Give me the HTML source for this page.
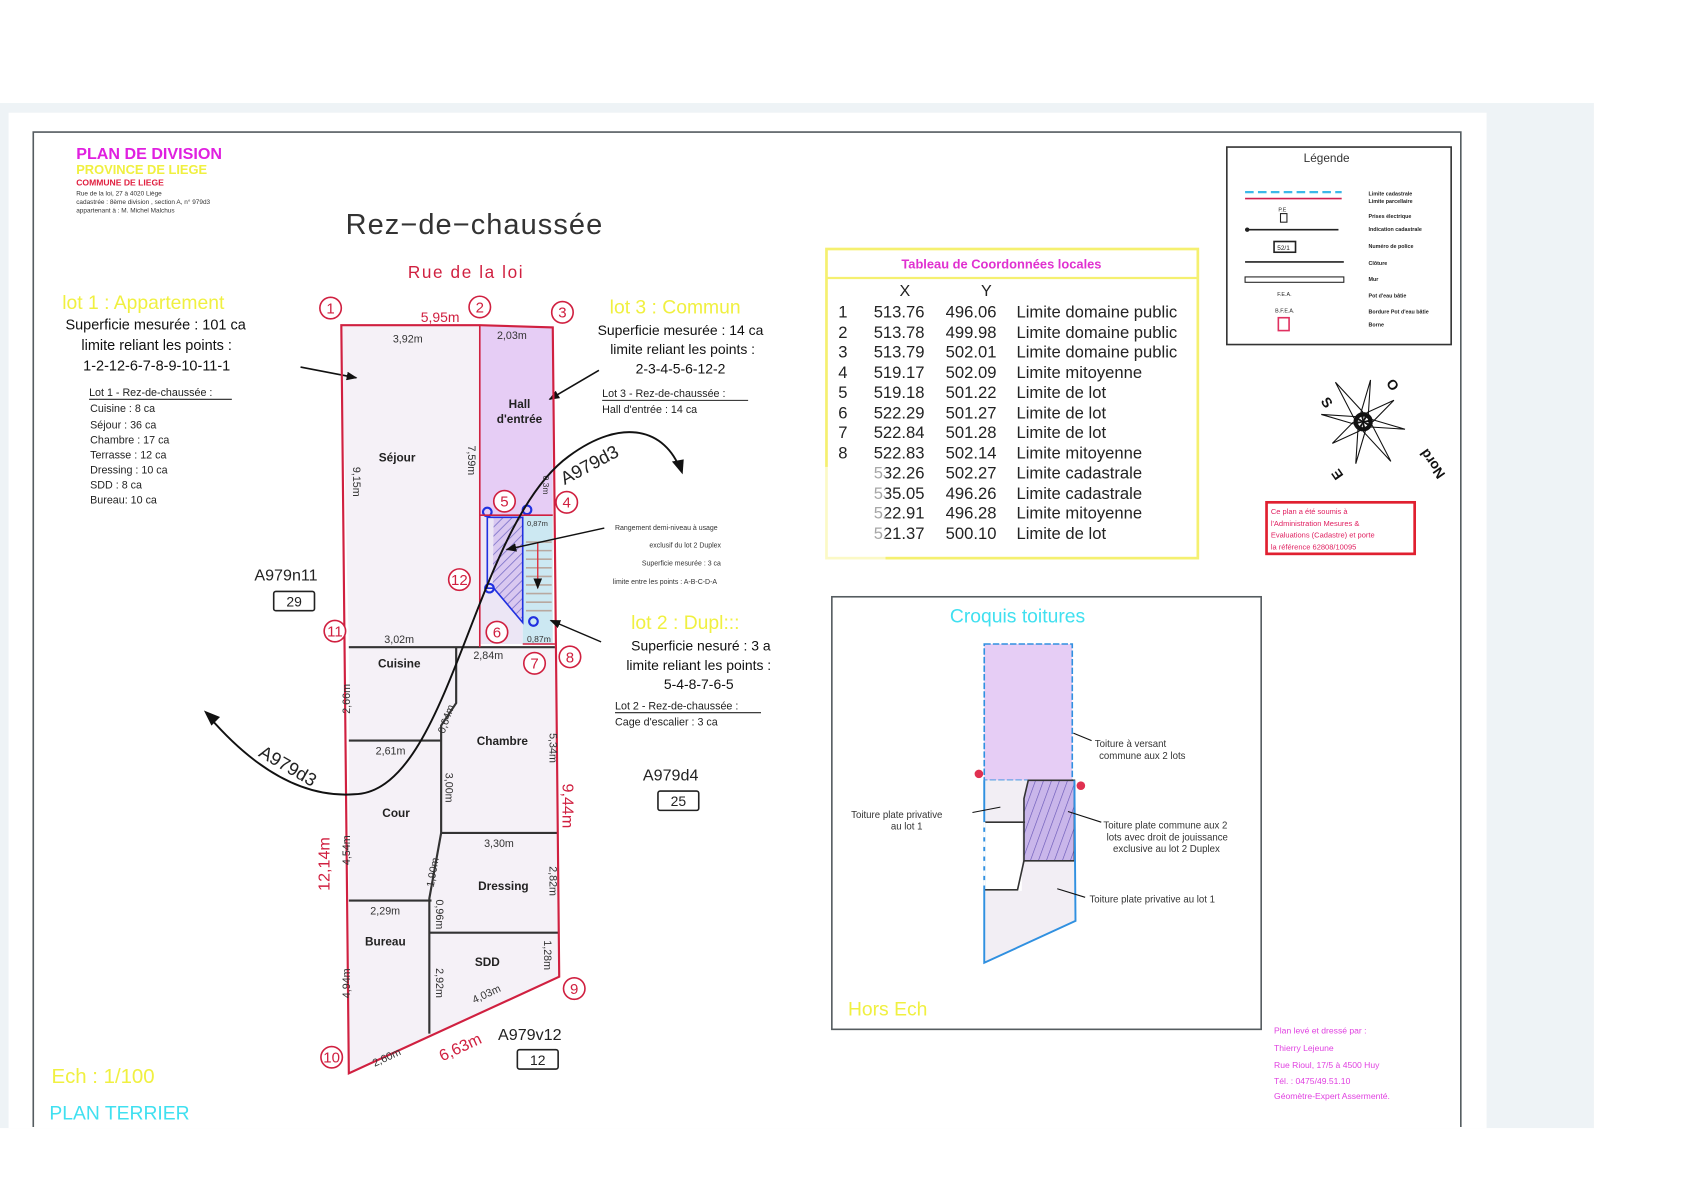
<!DOCTYPE html>
<html><head><meta charset="utf-8"><style>
html,body{margin:0;padding:0;background:#fff;width:1683px;height:1200px;overflow:hidden}
svg{display:block}
text{font-family:"Liberation Sans",sans-serif}
.n{font-family:"Liberation Sans Narrow","Liberation Sans",sans-serif}
</style></head><body>
<svg width="1683" height="1200" viewBox="0 0 1568 1118" xmlns="http://www.w3.org/2000/svg">
<defs>
<pattern id="h" width="6" height="6" patternUnits="userSpaceOnUse" patternTransform="rotate(45)"><rect width="6" height="6" fill="#d9c8f0"/><line x1="0" y1="0" x2="0" y2="6" stroke="#7a70c8" stroke-width="1.5"/></pattern>
<pattern id="h2" width="7" height="7" patternUnits="userSpaceOnUse" patternTransform="rotate(20)"><rect width="7" height="7" fill="#c9b6ea"/><line x1="0" y1="0" x2="0" y2="7" stroke="#6a58b8" stroke-width="1.2"/></pattern>
<marker id="ar" markerWidth="10" markerHeight="8" refX="9" refY="4" orient="auto" markerUnits="userSpaceOnUse"><path d="M0,0 L10,4 L0,8 z" fill="#111"/></marker>
</defs>
<!-- backgrounds -->
<rect x="0" y="96" width="1485" height="955" fill="#eef3f6"/>
<rect x="8" y="105" width="1377" height="946" fill="#fff"/>
<path d="M31,1050 V123 H1361 V1050" fill="none" stroke="#555c60" stroke-width="1.5"/>

<!-- header -->
<text x="71" y="148" font-size="15" font-weight="bold" fill="#e020e0">PLAN DE DIVISION</text>
<text x="71" y="162" font-size="12" font-weight="bold" fill="#f0f040">PROVINCE DE LIEGE</text>
<text x="71" y="173" font-size="8" font-weight="bold" fill="#e02040">COMMUNE DE LIEGE</text>
<text x="71" y="182" font-size="6" fill="#333">Rue de la loi, 27 à 4020 Liège</text>
<text x="71" y="190" font-size="6" fill="#333">cadastrée : 8ème division , section A, n° 979d3</text>
<text x="71" y="198" font-size="6" fill="#333">appartenant à : M. Michel Malchus</text>

<text x="322" y="218" font-size="27" fill="#333" letter-spacing="1">Rez−de−chaussée</text>
<text x="380" y="259" font-size="16" fill="#d02040" letter-spacing="1.5">Rue de la loi</text>

<!-- lot 1 text -->
<text x="58" y="288" font-size="18" fill="#f0f040">lot 1 : Appartement</text>
<text x="145" y="307" font-size="13.5" fill="#111" text-anchor="middle" class="n">Superficie mesurée : 101 ca</text>
<text x="146" y="326" font-size="13.5" fill="#111" text-anchor="middle" class="n">limite reliant les points :</text>
<text x="146" y="345" font-size="13.5" fill="#111" text-anchor="middle" class="n">1-2-12-6-7-8-9-10-11-1</text>
<text x="83" y="369" font-size="10" fill="#222">Lot 1 - Rez-de-chaussée :</text>
<line x1="83" y1="372" x2="216" y2="372" stroke="#222"/>
<g font-size="10" fill="#222"><text x="84" y="384">Cuisine : 8 ca</text><text x="84" y="399">Séjour : 36 ca</text><text x="84" y="413">Chambre : 17 ca</text><text x="84" y="427">Terrasse : 12 ca</text><text x="84" y="441">Dressing : 10 ca</text><text x="84" y="455">SDD : 8 ca</text><text x="84" y="469">Bureau: 10 ca</text></g>

<!-- lot 3 text -->
<text x="568" y="292" font-size="18" fill="#f0f040">lot 3 : Commun</text>
<text x="634" y="312" font-size="13" fill="#111" text-anchor="middle" class="n">Superficie mesurée : 14 ca</text>
<text x="636" y="330" font-size="13" fill="#111" text-anchor="middle" class="n">limite reliant les points :</text>
<text x="634" y="348" font-size="13" fill="#111" text-anchor="middle" class="n">2-3-4-5-6-12-2</text>
<text x="561" y="370" font-size="10" fill="#222">Lot 3 - Rez-de-chaussée :</text>
<line x1="561" y1="373" x2="697" y2="373" stroke="#222"/>
<text x="561" y="385" font-size="10" fill="#222">Hall d'entrée : 14 ca</text>

<!-- parcel fills -->
<polygon points="318,303 447,303 447,603 325,603" fill="#f5f1f7"/>
<rect x="447" y="304" width="68" height="176" fill="#e6cdf5"/>
<polygon points="325,603 517,603 521,910 325,1000" fill="#f5f1f7"/>
<rect x="447" y="480" width="40" height="120" fill="#ece6f5"/>
<rect x="487" y="480" width="28" height="120" fill="#cce8f2"/>
<g stroke="#b8a8a0" stroke-width="1.5"><line x1="490" y1="505" x2="514" y2="505"/><line x1="490" y1="513" x2="514" y2="513"/><line x1="490" y1="521" x2="514" y2="521"/><line x1="490" y1="529" x2="514" y2="529"/><line x1="490" y1="537" x2="514" y2="537"/><line x1="490" y1="545" x2="514" y2="545"/><line x1="490" y1="553" x2="514" y2="553"/><line x1="490" y1="561" x2="514" y2="561"/><line x1="490" y1="569" x2="514" y2="569"/></g>
<line x1="501" y1="505" x2="501" y2="548" stroke="#e03040" stroke-width="1.3" marker-end="url(#ar)"/>
<polygon points="460,482 487,482 487,578 459,548" fill="url(#h)"/>
<polyline points="454,482 487,482 487,580 460,548 454,548 454,482" fill="none" stroke="#2030e0" stroke-width="1.5"/>
<g fill="none" stroke="#2030e0" stroke-width="2"><circle cx="454" cy="477" r="4"/><circle cx="491" cy="475" r="4"/><circle cx="456" cy="548" r="4"/><circle cx="497" cy="579" r="4"/></g>

<!-- arrows to parcel -->
<line x1="280" y1="342" x2="332" y2="352" stroke="#111" stroke-width="1.5" marker-end="url(#ar)"/>
<line x1="558" y1="345" x2="512" y2="372" stroke="#111" stroke-width="1.5" marker-end="url(#ar)"/>

<!-- room lines -->
<g stroke="#333" stroke-width="2" fill="none">
<line x1="325" y1="603" x2="517" y2="603"/>
<polyline points="425,603 425,655 411,676 411,776 400,837 400,963"/>
<line x1="325" y1="690" x2="411" y2="690"/>
<line x1="411" y1="776" x2="519" y2="776"/>
<line x1="325" y1="839" x2="402" y2="839"/>
<line x1="400" y1="869" x2="520" y2="869"/>
</g>
<line x1="447" y1="303" x2="447" y2="603" stroke="#d02040" stroke-width="1.5"/>
<line x1="447" y1="480" x2="515" y2="480" stroke="#d02040" stroke-width="1.5"/>
<line x1="487" y1="600" x2="517" y2="600" stroke="#d02040" stroke-width="1.5"/>
<!-- parcel outline -->
<polygon points="318,303 447,303 515,305 521,910 325,1000" fill="none" stroke="#d02040" stroke-width="2"/>

<!-- point circles -->
<g fill="#fff" stroke="#d02040" stroke-width="1.5">
<circle cx="308" cy="287" r="10"/><circle cx="447" cy="286" r="10"/><circle cx="524" cy="291" r="10"/><circle cx="528" cy="468" r="10"/><circle cx="470" cy="467" r="10"/><circle cx="428" cy="540" r="10"/><circle cx="463" cy="589" r="10"/><circle cx="498" cy="618" r="10"/><circle cx="531" cy="612" r="10"/><circle cx="312" cy="588" r="10"/><circle cx="309" cy="985" r="10"/><circle cx="535" cy="921" r="10"/>
</g>
<g font-size="14" fill="#d02040" text-anchor="middle">
<text x="308" y="292">1</text><text x="447" y="291">2</text><text x="524" y="296">3</text><text x="528" y="473">4</text><text x="470" y="472">5</text><text x="428" y="545">12</text><text x="463" y="594">6</text><text x="498" y="623">7</text><text x="531" y="617">8</text><text x="312" y="593">11</text><text x="309" y="990">10</text><text x="535" y="926">9</text>
</g>

<!-- dimensions -->
<text x="392" y="300" font-size="13" fill="#d02040" class="n">5,95m</text>
<g font-size="10" fill="#333" class="n">
<text x="366" y="319">3,92m</text><text x="463" y="316">2,03m</text><text x="358" y="599">3,02m</text><text x="441" y="614">2,84m</text><text x="350" y="703">2,61m</text><text x="451" y="789">3,30m</text><text x="345" y="852">2,29m</text>
<text x="491" y="490" font-size="7">0,87m</text><text x="491" y="598" font-size="8">0,87m</text>
</g>
<g font-size="10" fill="#333" class="n">
<text transform="translate(329,435) rotate(90)">9,15m</text>
<text transform="translate(436,415) rotate(90)">7,59m</text>
<text transform="translate(326,665) rotate(-90)">2,66m</text>
<text transform="translate(326,806) rotate(-90)">4,54m</text>
<text transform="translate(326,930) rotate(-90)">4,94m</text>
<text transform="translate(415,720) rotate(90)">3,00m</text>
<text transform="translate(404,827) rotate(-80)">1,90m</text>
<text transform="translate(406,838) rotate(90)">0,96m</text>
<text transform="translate(406,902) rotate(90)">2,92m</text>
<text transform="translate(512,683) rotate(90)">5,34m</text>
<text transform="translate(512,807) rotate(90)">2,82m</text>
<text transform="translate(507,876) rotate(90)">1,28m</text>
<text transform="translate(414,684) rotate(-70)">0,64m</text>
<text transform="translate(442,935) rotate(-25)">4,03m</text>
<text transform="translate(349,994) rotate(-25)">2,60m</text>
<text transform="translate(506,443) rotate(90)" font-size="8">0,3m</text>
</g>
<text transform="translate(307,830) rotate(-90)" font-size="15" fill="#d02040" class="n">12,14m</text>
<text transform="translate(524,730) rotate(90)" font-size="15" fill="#d02040" class="n">9,44m</text>
<text transform="translate(412,989) rotate(-25)" font-size="15" fill="#d02040" class="n">6,63m</text>

<!-- room names -->
<g font-size="11" fill="#222" font-weight="bold" text-anchor="middle">
<text x="484" y="380">Hall</text><text x="484" y="394">d'entrée</text>
<text x="370" y="430">Séjour</text><text x="372" y="622">Cuisine</text><text x="468" y="694">Chambre</text><text x="369" y="761">Cour</text><text x="469" y="829">Dressing</text><text x="359" y="881">Bureau</text><text x="454" y="900">SDD</text>
</g>

<!-- A979d3 curve -->
<path d="M195,668 Q262,745 330,740 C420,738 440,490 530,425 C580,388 620,400 634,438" fill="none" stroke="#111" stroke-width="1.8"/>
<path d="M190,662 L205,668 L197,676 z" fill="#111"/>
<path d="M636,442 L626,430 L637,428 z" fill="#111"/>
<text transform="translate(526,452) rotate(-28)" font-size="17" fill="#222">A979d3</text>
<text transform="translate(240,704) rotate(30)" font-size="17" fill="#222">A979d3</text>

<!-- parcel labels -->
<text x="237" y="541" font-size="15" fill="#222">A979n11</text>
<rect x="255" y="551" width="38" height="18" rx="2" fill="none" stroke="#222" stroke-width="1.5"/><text x="274" y="565" font-size="13" text-anchor="middle" fill="#222">29</text>
<text x="599" y="727" font-size="15" fill="#222">A979d4</text>
<rect x="613" y="737" width="38" height="18" rx="2" fill="none" stroke="#222" stroke-width="1.5"/><text x="632" y="751" font-size="13" text-anchor="middle" fill="#222">25</text>
<text x="464" y="969" font-size="15" fill="#222">A979v12</text>
<rect x="482" y="978" width="38" height="18" rx="2" fill="none" stroke="#222" stroke-width="1.5"/><text x="501" y="992" font-size="13" text-anchor="middle" fill="#222">12</text>

<!-- rangement note -->
<g font-size="6.5" fill="#333" class="n"><text x="573" y="494">Rangement demi-niveau à usage</text><text x="605" y="510">exclusif du lot 2 Duplex</text><text x="598" y="527">Superficie mesurée : 3 ca</text><text x="571" y="544">limite entre les points : A-B-C-D-A</text></g>
<line x1="563" y1="492" x2="472" y2="512" stroke="#111" stroke-width="1.3" marker-end="url(#ar)"/>

<!-- lot 2 text -->
<text x="588" y="586" font-size="18" fill="#f0f040">lot 2 : Dupl:::</text>
<text x="653" y="606" font-size="13" fill="#111" text-anchor="middle" class="n">Superficie nesuré : 3 a</text>
<text x="651" y="624" font-size="13" fill="#111" text-anchor="middle" class="n">limite reliant les points :</text>
<text x="651" y="642" font-size="13" fill="#111" text-anchor="middle" class="n">5-4-8-7-6-5</text>
<text x="573" y="661" font-size="10" fill="#222">Lot 2 - Rez-de-chaussée :</text>
<line x1="573" y1="664" x2="709" y2="664" stroke="#222"/>
<text x="573" y="676" font-size="10" fill="#222">Cage d'escalier : 3 ca</text>
<line x1="560" y1="598" x2="513" y2="578" stroke="#111" stroke-width="1.3" marker-end="url(#ar)"/>

<text x="48" y="1009" font-size="19" fill="#f0f040">Ech : 1/100</text>
<text x="46" y="1043" font-size="18" fill="#40e0f0">PLAN TERRIER</text>

<!-- table -->
<rect x="770" y="232" width="346" height="288" fill="none" stroke="#f5f070" stroke-width="2.5"/>
<line x1="770" y1="259" x2="1116" y2="259" stroke="#f5f070" stroke-width="2"/>
<text x="933" y="250" font-size="12" font-weight="bold" fill="#e030d0" text-anchor="middle">Tableau de Coordonnées locales</text>
<text x="838" y="276" font-size="15" fill="#222">X</text><text x="914" y="276" font-size="15" fill="#222">Y</text>
<g font-size="15.5" fill="#222">
<text x="781" y="296">1</text><text x="814" y="296">513.76</text><text x="881" y="296">496.06</text><text x="947" y="296">Limite domaine public</text>
<text x="781" y="315">2</text><text x="814" y="315">513.78</text><text x="881" y="315">499.98</text><text x="947" y="315">Limite domaine public</text>
<text x="781" y="333">3</text><text x="814" y="333">513.79</text><text x="881" y="333">502.01</text><text x="947" y="333">Limite domaine public</text>
<text x="781" y="352">4</text><text x="814" y="352">519.17</text><text x="881" y="352">502.09</text><text x="947" y="352">Limite mitoyenne</text>
<text x="781" y="371">5</text><text x="814" y="371">519.18</text><text x="881" y="371">501.22</text><text x="947" y="371">Limite de lot</text>
<text x="781" y="390">6</text><text x="814" y="390">522.29</text><text x="881" y="390">501.27</text><text x="947" y="390">Limite de lot</text>
<text x="781" y="408">7</text><text x="814" y="408">522.84</text><text x="881" y="408">501.28</text><text x="947" y="408">Limite de lot</text>
<text x="781" y="427">8</text><text x="814" y="427">522.83</text><text x="881" y="427">502.14</text><text x="947" y="427">Limite mitoyenne</text>
<text x="814" y="446">532.26</text><text x="881" y="446">502.27</text><text x="947" y="446">Limite cadastrale</text>
<text x="814" y="465">535.05</text><text x="881" y="465">496.26</text><text x="947" y="465">Limite cadastrale</text>
<text x="814" y="483">522.91</text><text x="881" y="483">496.28</text><text x="947" y="483">Limite mitoyenne</text>
<text x="814" y="502">521.37</text><text x="881" y="502">500.10</text><text x="947" y="502">Limite de lot</text>
</g>
<rect x="765" y="435" width="60" height="90" fill="#fff" opacity="0.6"/>

<!-- legend -->
<rect x="1143" y="137" width="209" height="184" fill="#fff" stroke="#333" stroke-width="1.5"/>
<text x="1236" y="151" font-size="11" fill="#333" text-anchor="middle">Légende</text>
<line x1="1160" y1="179" x2="1250" y2="179" stroke="#3cb8e8" stroke-width="2" stroke-dasharray="8,4"/>
<line x1="1160" y1="185" x2="1250" y2="185" stroke="#d02050" stroke-width="1.5"/>
<rect x="1193" y="199" width="6" height="8" fill="none" stroke="#222"/><text x="1191" y="197" font-size="5" fill="#222">P.E</text>
<line x1="1160" y1="214" x2="1247" y2="214" stroke="#222" stroke-width="1.5"/><circle cx="1162" cy="214" r="2" fill="#222"/>
<rect x="1187" y="225" width="20" height="10" fill="none" stroke="#222" stroke-width="1.5"/><text x="1190" y="233" font-size="6" fill="#222">52/1</text>
<line x1="1160" y1="244" x2="1252" y2="244" stroke="#222" stroke-width="1.5"/>
<rect x="1160" y="258" width="92" height="5" fill="none" stroke="#222"/>
<text x="1190" y="276" font-size="5" fill="#222">F.E.A.</text><text x="1188" y="291" font-size="5" fill="#222">B.F.E.A.</text>
<rect x="1191" y="296" width="10" height="12" fill="none" stroke="#e03060" stroke-width="1.5"/>
<g font-size="5" font-weight="bold" fill="#222"><text x="1275" y="182">Limite cadastrale</text><text x="1275" y="189">Limite parcellaire</text><text x="1275" y="203">Prises électrique</text><text x="1275" y="215">Indication cadastrale</text><text x="1275" y="231">Numéro de police</text><text x="1275" y="247">Clôture</text><text x="1275" y="262">Mur</text><text x="1275" y="277">Pot d'eau bâtie</text><text x="1275" y="292">Bordure Pot d'eau bâtie</text><text x="1275" y="304">Borne</text></g>

<!-- compass -->
<g transform="translate(1270,393)" stroke="#111" fill="none" stroke-width="1">
<g transform="rotate(-35)">
<polygon points="0,-45 5,-8 0,0 -5,-8"/><polygon points="0,45 5,8 0,0 -5,8"/><polygon points="-35,0 -8,-5 0,0 -8,5"/><polygon points="35,0 8,-5 0,0 8,5"/>
<polygon points="-28,-28 -3,-8 0,0 -8,-3"/><polygon points="28,28 3,8 0,0 8,3"/><polygon points="28,-28 8,-3 0,0 3,-8"/><polygon points="-28,28 -8,3 0,0 -3,8"/>
</g>
<circle r="7" stroke-width="4"/>
</g>
<g font-size="13" fill="#111" font-weight="bold">
<text transform="translate(1230,374) rotate(55)">S</text>
<text transform="translate(1291,357) rotate(55)">O</text>
<text transform="translate(1252,443) rotate(-125)">E</text>
<text transform="translate(1347,442) rotate(-125)">Nord</text>
</g>

<!-- red box -->
<rect x="1180" y="468" width="138" height="48" fill="#fff" stroke="#e02030" stroke-width="2.5"/>
<g font-size="7" fill="#e02060"><text x="1184" y="479">Ce plan a été soumis à</text><text x="1184" y="490">l'Administration Mesures &amp;</text><text x="1184" y="501">Evaluations (Cadastre) et porte</text><text x="1184" y="512">la référence 62808/10095</text></g>

<!-- croquis -->
<rect x="775" y="556" width="400" height="403" fill="#fff" stroke="#555c60" stroke-width="1.5"/>
<text x="885" y="580" font-size="18" fill="#40e0f0">Croquis toitures</text>
<rect x="917" y="600" width="82" height="127" fill="#e6cdf5" stroke="#3090e0" stroke-width="1.5" stroke-dasharray="6,2"/>
<polygon points="917,727 958,727 954,744 954,802 1001,802 1001,858 917,897" fill="#f2eef4"/>
<polygon points="958,727 1001,727 1001,802 954,802 954,744" fill="url(#h2)" stroke="#333" stroke-width="1.5"/>
<rect x="918" y="766" width="34" height="64" fill="#fff"/>
<polyline points="917,766 955,766" stroke="#333" stroke-width="1.5"/>
<polyline points="917,829 948,829 954,802" fill="none" stroke="#333" stroke-width="1.5"/>
<polyline points="917,727 917,897 1002,858 1001,727" fill="none" stroke="#3090e0" stroke-width="1.8"/>
<line x1="917" y1="766" x2="917" y2="829" stroke="#fff" stroke-width="2" stroke-dasharray="5,4"/>
<circle cx="912" cy="721" r="4" fill="#e03050"/><circle cx="1007" cy="732" r="4" fill="#e03050"/>
<g font-size="9" fill="#333" class="n">
<text x="1020" y="696">Toiture à versant</text><text x="1024" y="707">commune aux 2 lots</text>
<text x="793" y="762">Toiture plate privative</text><text x="830" y="773">au lot 1</text>
<text x="1028" y="772">Toiture plate commune aux 2</text><text x="1031" y="783">lots avec droit de jouissance</text><text x="1037" y="794">exclusive au lot 2 Duplex</text>
<text x="1015" y="841">Toiture plate privative au lot 1</text>
</g>
<g stroke="#111" stroke-width="1" fill="none"><path d="M1017,690 L1000,683"/><path d="M906,757 L932,752"/><path d="M1026,766 L995,756"/><path d="M1011,836 L985,828"/></g>
<text x="790" y="946" font-size="18" fill="#f0f040">Hors Ech</text>

<g font-size="8" fill="#e040e0"><text x="1187" y="963">Plan levé et dressé par :</text><text x="1187" y="979">Thierry Lejeune</text><text x="1187" y="995">Rue Rioul, 17/5 à 4500 Huy</text><text x="1187" y="1010">Tél. : 0475/49.51.10</text><text x="1187" y="1024">Géomètre-Expert Assermenté.</text></g>
</svg>
</body></html>
